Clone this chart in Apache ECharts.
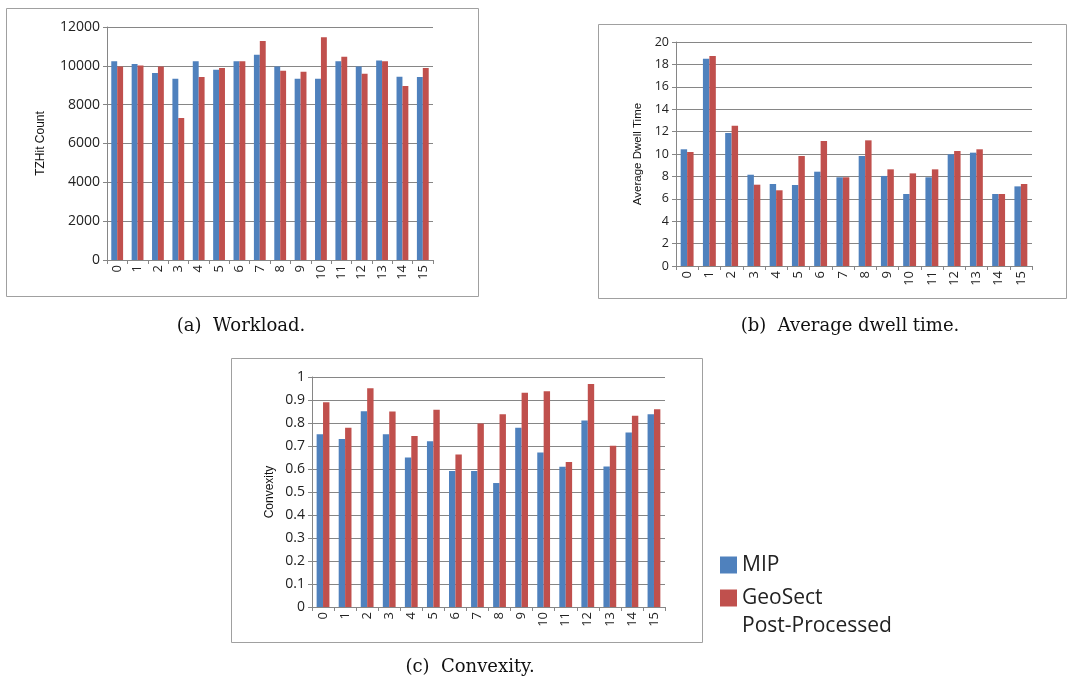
<!DOCTYPE html>
<html>
<head>
<meta charset="utf-8">
<script src="https://cdn.jsdelivr.net/npm/echarts@6/dist/echarts.min.js"></script>
<style>
html, body { margin: 0; padding: 0; background: #fff; }
#main { width: 1069px; height: 683px; }
</style>
</head>
<body>
<div id="main"></div>
<script>
// data
var categories = ['0', '1', '2', '3', '4', '5', '6', '7', '8', '9', '10', '11', '12', '13', '14', '15'];
var seriesNames = ['MIP', 'GeoSect Post-Processed'];

// (a) workload, TZHit count
var workloadMip = [10230, 10090, 9630, 9340, 10230, 9800, 10230, 10570, 9970, 9340, 9340, 10230, 9970, 10280, 9440, 9420];
var workloadGeo = [9970, 10020, 9970, 7310, 9420, 9890, 10230, 11280, 9750, 9700, 11470, 10470, 9590, 10230, 8960, 9890];

// (b) average dwell time
var dwellMip = [10.42, 18.5, 11.88, 8.15, 7.32, 7.23, 8.42, 7.92, 9.82, 8.04, 6.43, 7.92, 9.97, 10.12, 6.43, 7.11];
var dwellGeo = [10.18, 18.75, 12.53, 7.26, 6.76, 9.82, 11.16, 7.92, 11.22, 8.63, 8.27, 8.63, 10.27, 10.42, 6.43, 7.32];

// (c) convexity
var convexMip = [0.751, 0.730, 0.851, 0.751, 0.650, 0.721, 0.591, 0.591, 0.539, 0.779, 0.672, 0.610, 0.811, 0.611, 0.759, 0.838];
var convexGeo = [0.890, 0.779, 0.951, 0.850, 0.743, 0.858, 0.663, 0.798, 0.838, 0.931, 0.938, 0.630, 0.970, 0.701, 0.831, 0.860];

var captions = ['(a)  Workload.', '(b)  Average dwell time.', '(c)  Convexity.'];

var blue = '#4f81bd';
var red = '#c0504d';
var lineGray = '#868686';
var font = 'Open Sans';
var captionFont = '18px "DejaVu Serif"';

var myChart = echarts.init(document.getElementById('main'));

function xAxisFor(i) {
    return {
        type: 'category',
        gridIndex: i,
        data: categories,
        axisLine: { lineStyle: { color: lineGray } },
        axisTick: { show: true, length: 4, lineStyle: { color: lineGray } },
        axisLabel: { rotate: 90, margin: 5, color: '#222', fontFamily: font, fontSize: 13 }
    };
}

function yAxisFor(i, max, interval, name, nameGap, nameSize, labelSize) {
    return {
        type: 'value',
        gridIndex: i,
        min: 0,
        max: max,
        interval: interval,
        name: name,
        nameLocation: 'middle',
        nameRotate: 90,
        nameGap: nameGap,
        nameTextStyle: { fontFamily: 'Liberation Sans', fontSize: nameSize, color: '#111' },
        axisLine: { show: true, lineStyle: { color: lineGray } },
        axisTick: { show: true, length: 4, lineStyle: { color: lineGray } },
        axisLabel: {
            margin: 7, color: '#222', fontFamily: font, fontSize: labelSize,
            formatter: function(v) { return String(v); }
        },
        splitLine: { lineStyle: { color: lineGray, width: 1 } }
    };
}

function barSeries(name, i, data, color) {
    return {
        name: name,
        type: 'bar',
        xAxisIndex: i,
        yAxisIndex: i,
        data: data,
        barGap: 0,
        barCategoryGap: '42%',
        itemStyle: { color: color },
        silent: true
    };
}

// one legend per entry; the two-line label gets an empty first line so
// the swatch lines up with "GeoSect"
function legendFor(name, top, fmt) {
    return {
        orient: 'vertical',
        left: 715,
        top: top,
        icon: 'rect',
        itemWidth: 17,
        itemHeight: 17,
        selectedMode: false,
        formatter: fmt,
        textStyle: { fontFamily: font, fontSize: 21, lineHeight: 28, color: '#222' },
        data: [name]
    };
}

var option = {
    backgroundColor: '#fff',
    animation: false,
    grid: [
        { left: 107, top: 27, width: 326, height: 233 },
        { left: 676, top: 42, width: 356, height: 224 },
        { left: 312, top: 377, width: 353, height: 230 }
    ],
    xAxis: [xAxisFor(0), xAxisFor(1), xAxisFor(2)],
    yAxis: [
        yAxisFor(0, 12000, 2000, 'TZHit Count', 60, 12, 14),
        yAxisFor(1, 20, 2, 'Average Dwell Time', 32, 11.5, 12.5),
        yAxisFor(2, 1, 0.1, 'Convexity', 36, 12, 14)
    ],
    legend: [
        legendFor(seriesNames[0], 546, function(n) { return n; }),
        legendFor(seriesNames[1], 551, function(n) { return ' \n' + n.replace(' ', '\n'); })
    ],
    graphic: [
        { type: 'rect', shape: { x: 6.5, y: 8.5, width: 472, height: 288 }, style: { fill: null, stroke: '#a0a0a0', lineWidth: 1 } },
        { type: 'rect', shape: { x: 598.5, y: 24.5, width: 468, height: 274 }, style: { fill: null, stroke: '#a0a0a0', lineWidth: 1 } },
        { type: 'rect', shape: { x: 231.5, y: 358.5, width: 471, height: 284 }, style: { fill: null, stroke: '#a0a0a0', lineWidth: 1 } },
        { type: 'text', x: 241, y: 326, style: { text: captions[0], font: captionFont, fill: '#111', textAlign: 'center', textVerticalAlign: 'middle' } },
        { type: 'text', x: 850, y: 326, style: { text: captions[1], font: captionFont, fill: '#111', textAlign: 'center', textVerticalAlign: 'middle' } },
        { type: 'text', x: 470, y: 667, style: { text: captions[2], font: captionFont, fill: '#111', textAlign: 'center', textVerticalAlign: 'middle' } }
    ],
    series: [
        barSeries(seriesNames[0], 0, workloadMip, blue),
        barSeries(seriesNames[1], 0, workloadGeo, red),
        barSeries(seriesNames[0], 1, dwellMip, blue),
        barSeries(seriesNames[1], 1, dwellGeo, red),
        barSeries(seriesNames[0], 2, convexMip, blue),
        barSeries(seriesNames[1], 2, convexGeo, red)
    ]
};

myChart.setOption(option);
</script>
</body>
</html>
